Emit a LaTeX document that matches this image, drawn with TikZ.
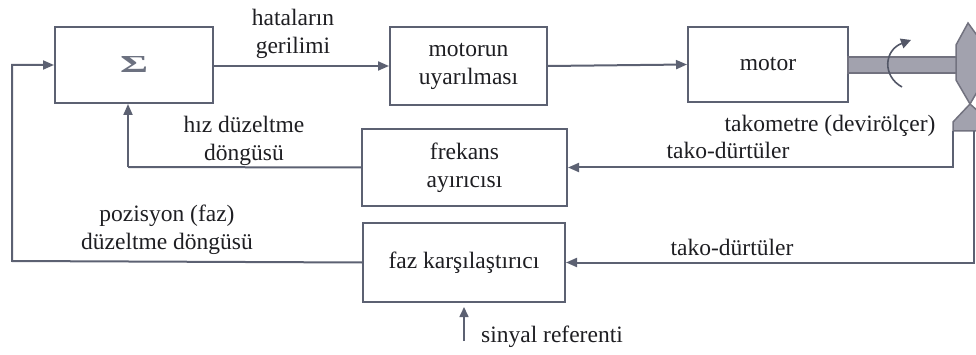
\documentclass[tikz,border=0pt]{standalone}
\usepackage{fontspec}
\setmainfont{Liberation Serif}
\usetikzlibrary{arrows.meta}
\definecolor{wire}{HTML}{5C6172}
\definecolor{ink}{HTML}{1E1E22}
\definecolor{metal}{HTML}{A2A2AE}
\definecolor{metaledge}{HTML}{72727F}
\begin{document}
\begin{tikzpicture}[x=1pt,y=-1pt,
  every node/.style={text=ink,font=\fontsize{23.5}{28}\selectfont},
  block/.style={draw=wire,line width=2pt,fill=white,inner sep=0pt,align=center},
  wireline/.style={draw=wire,line width=2pt},
  flow/.style={wireline,-{Triangle[length=11pt,width=9pt]}},
  lbl/.style={align=center,inner sep=0pt}]
\useasboundingbox (0,0) rectangle (976,355);
\clip (0,0) rectangle (976,355);

% blocks
\node[block,minimum width=158pt,minimum height=76pt] (sum) at (134,65)
  {\textcolor{wire!90}{\resizebox{28pt}{16pt}{\bfseries Σ}}};
\node[block,minimum width=157pt,minimum height=78pt] (excite) at (468.5,66)
  {motorun\\uyarılması};
\node[block,minimum width=160pt,minimum height=75pt] (motor) at (768,64.5) {motor};
\node[block,minimum width=205pt,minimum height=77pt] (freq) at (464.5,167.5)
  {frekans\\ayırıcısı};
\node[block,minimum width=202pt,minimum height=79pt] (phase) at (464,262.5)
  {faz karşılaştırıcı};

% shaft and tachometer
\fill[metal,draw=metaledge,line width=1.2pt] (848,57) rectangle (958,73);
\draw[draw=metaledge,fill=metal,line width=1.5pt]
  (968,23) -- (956,45) -- (956,80) -- (970,104) -- (984,80) -- (984,45) -- cycle;
\draw[draw=metaledge,fill=metal,line width=1.5pt]
  (970,104) -- (953,122) -- (953,131) -- (990,131) -- (990,122) -- cycle;
\draw[draw=wire!90!black,line width=1.6pt,-{Triangle[length=10pt,width=10pt]}]
  (902,87) .. controls (882,76) and (884,50) .. (911,40);

% free ends of connectors
\coordinate (tA) at (953,131);
\coordinate (tB) at (974,131);
\coordinate (ref) at (464,341);
\coordinate (leftbus) at (12,261);
\coordinate (speedbus) at (128,167);

% forward path
\draw[flow] (sum.east |- excite.west) -- (excite.west);
\draw[flow] (excite.east) -- (motor.west);

% speed loop
\draw[flow] (tA) |- (freq.east);
\draw[wireline] (freq.west) -- (speedbus);
\draw[flow] (speedbus) -- (speedbus |- sum.south);

% phase loop
\draw[flow] (tB) |- (phase.east);
\draw[flow] (phase.west) -- (leftbus) |- (sum.west);
\draw[wireline,line width=1.6pt,-{Triangle[length=10pt,width=9pt]}] (ref) -- ([yshift=-4pt]phase.south);

% labels
\node[lbl] (lerr) at (293,34) {hataların\\gerilimi};
\node[lbl] (lspeed) at (244,141) {hız düzeltme\\döngüsü};
\node[lbl] (lpos) at (167,230) {pozisyon (faz)\\düzeltme döngüsü};
\node[lbl] (ltach) at (830,126) {takometre (devirölçer)};
\node[lbl] (lp1) at (728,150) {tako-dürtüler};
\node[lbl] (lp2) at (732,247) {tako-dürtüler};
\node[lbl,anchor=west] (lref) at (481,337) {sinyal referenti};
\end{tikzpicture}
\end{document}
